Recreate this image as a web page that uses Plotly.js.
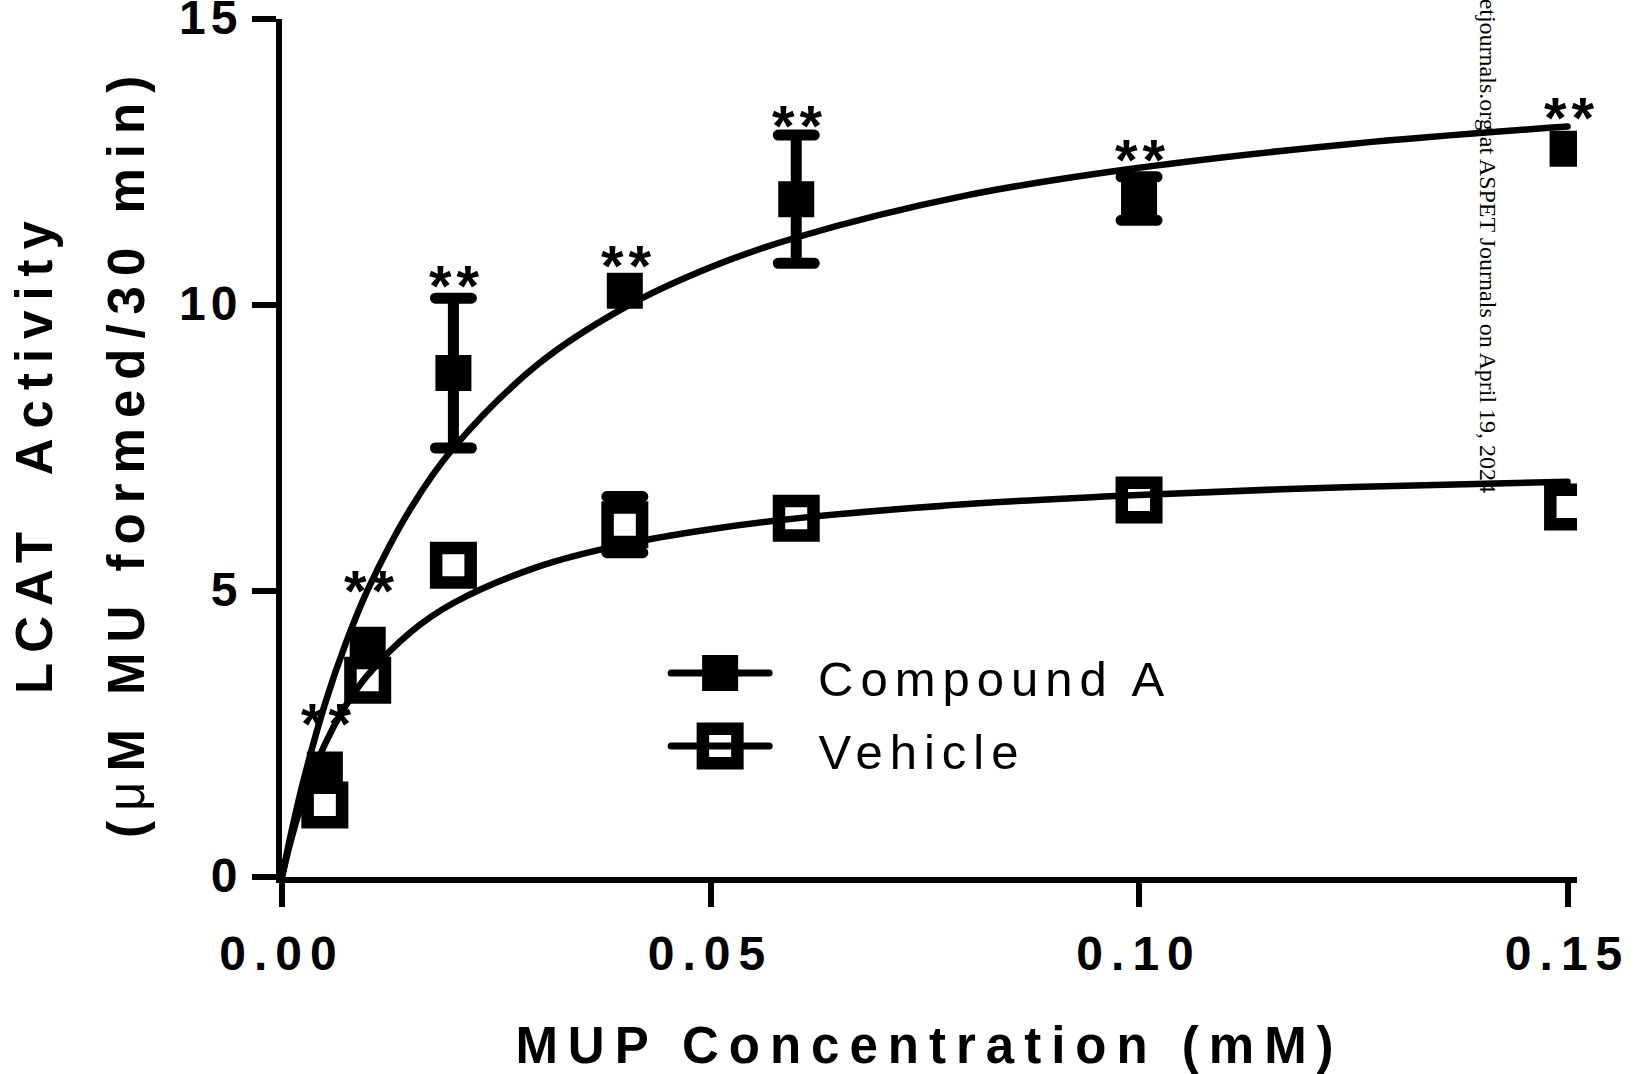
<!DOCTYPE html>
<html>
<head>
<meta charset="utf-8">
<script src="https://cdn.plot.ly/plotly-3.0.1.min.js"></script>
<style>
html, body { margin: 0; padding: 0; background: #ffffff; }
#chart { width: 1637px; height: 1074px; }
.xtick text { letter-spacing: 8px; }
.ytick text { letter-spacing: 5px; }
.xtitle { letter-spacing: 10px; }
g.annotation text { letter-spacing: 5px; }
g.annotation[data-index="0"] text, g.annotation[data-index="1"] text { letter-spacing: 10px; }
g.annotation[data-index="2"] text, g.annotation[data-index="3"] text { letter-spacing: 7px; }
g.annotation[data-index="4"] text { letter-spacing: 0px; }
g.errorbar path { stroke-linecap: round; }
.shapelayer path { stroke-linecap: round; }
.js-line { stroke-linecap: round; }
</style>
</head>
<body>
<div id="chart"></div>
<script>
// ---- data ----
const concentration = [0.005, 0.01, 0.02, 0.04, 0.06, 0.10, 0.15];      // mM
const compoundMean  = [1.88, 4.06, 8.81, 10.25, 11.85, 11.86, 12.73];
const compoundSem   = [null, null, 1.31, null, 1.12, 0.38, null];      // null = hidden behind symbol
const vehicleMean   = [1.26, 3.44, 5.45, 6.16, 6.27, 6.59, 6.47];
const vehicleSem    = [null, null, null, 0.49, null, null, null];
const fitX          = [0, 0.001, 0.0025, 0.005, 0.0075, 0.01, 0.015, 0.02, 0.03, 0.04, 0.05, 0.06, 0.08, 0.10, 0.125, 0.15];
const compoundFit   = [0, 0.72, 1.68, 3.02, 4.11, 5.02, 6.44, 7.50, 8.98, 9.96, 10.66, 11.18, 11.92, 12.40, 12.82, 13.12];
const vehicleFit    = [0, 0.62, 1.37, 2.32, 3.01, 3.53, 4.28, 4.79, 5.43, 5.82, 6.08, 6.27, 6.52, 6.68, 6.82, 6.91];
const significance  = ['**', '**', '**', '**', '**', '**', '**'];
const xTickVals     = [0, 0.05, 0.10, 0.15];
const xTickText     = ['0.00', '0.05', '0.10', '0.15'];
const yTickVals     = [0, 5, 10, 15];

// ---- layout geometry ----
const M = { l: 282, r: 60.4, t: 19, b: 197 };
const FIG_W = 1637, FIG_H = 1074;
const PW = FIG_W - M.l - M.r, PH = FIG_H - M.t - M.b;
const px = xp => (xp - M.l) / PW;
const py = yp => (M.t + PH - yp) / PH;
const SANS = 'Liberation Sans, Arial, Helvetica, sans-serif';
const SERIF = 'Liberation Serif, Times New Roman, serif';
const toErr = a => a.map(v => (v === null ? NaN : v));

const traces = [
  {
    x: concentration, y: compoundMean, type: 'scatter', mode: 'markers', name: 'Compound A',
    marker: { symbol: 'square', size: 36, color: '#000', line: { width: 0 } },
    error_y: { type: 'data', array: toErr(compoundSem), visible: true, color: '#000', thickness: 11, width: 18 },
    cliponaxis: true, showlegend: false
  },
  {
    x: concentration, y: vehicleMean, type: 'scatter', mode: 'markers', name: 'Vehicle',
    marker: { symbol: 'square', size: 34.5, color: '#fff', line: { width: 12.5, color: '#000' } },
    error_y: { type: 'data', array: toErr(vehicleSem), visible: true, color: '#000', thickness: 11, width: 18 },
    cliponaxis: true, showlegend: false
  },
  {
    x: fitX, y: compoundFit, type: 'scatter', mode: 'lines', name: 'Compound A fit',
    line: { color: '#000', width: 6.5, shape: 'spline', smoothing: 1 }, showlegend: false
  },
  {
    x: fitX, y: vehicleFit, type: 'scatter', mode: 'lines', name: 'Vehicle fit',
    line: { color: '#000', width: 6.5, shape: 'spline', smoothing: 1 }, showlegend: false
  }
];

// star label positions (data units)
const starLabelY = [2.91, 5.24, 10.56, 10.91, 13.37, 12.77, 13.51];

const annotations = [
  { text: 'LCAT  Activity', xref: 'paper', yref: 'paper', x: px(34), y: py(452), textangle: -90,
    showarrow: false, xanchor: 'center', yanchor: 'middle',
    font: { family: SANS, size: 51, color: '#000', weight: 700 } },
  { text: '(<span style="font-weight:normal">μ</span>M MU formed/30 min)', xref: 'paper', yref: 'paper',
    x: px(126), y: py(452), textangle: -90, showarrow: false, xanchor: 'center', yanchor: 'middle',
    font: { family: SANS, size: 51, color: '#000', weight: 700 } },
  { text: 'Compound A', xref: 'paper', yref: 'paper', x: px(816), y: py(679), showarrow: false,
    xanchor: 'left', yanchor: 'middle', xshift: 35, font: { family: SANS, size: 49, color: '#000' } },
  { text: 'Vehicle', xref: 'paper', yref: 'paper', x: px(816), y: py(752), showarrow: false,
    xanchor: 'left', yanchor: 'middle', xshift: 24.5, font: { family: SANS, size: 49, color: '#000' } },
  { text: 'etjournals.org at ASPET Journals on April 19, 2024', xref: 'paper', yref: 'paper',
    x: px(1488), y: py(-3), textangle: 90, showarrow: false, xanchor: 'center', yanchor: 'top',
    font: { family: SERIF, size: 24, color: '#000' } }
];
concentration.forEach((c, i) => {
  annotations.push({
    text: significance[i], x: c, y: starLabelY[i], xref: 'x', yref: 'y', showarrow: false,
    xanchor: 'center', yanchor: 'middle', xshift: 4, yshift: -13,
    font: { family: SANS, size: 58, color: '#000', weight: 700 }
  });
});

const shapes = [
  { type: 'line', xref: 'paper', yref: 'paper', x0: px(671), x1: px(769), y0: py(673), y1: py(673),
    line: { color: '#000', width: 7 } },
  { type: 'rect', xref: 'paper', yref: 'paper', x0: px(702), x1: px(738), y0: py(691), y1: py(655),
    fillcolor: '#000', line: { width: 0 } },
  { type: 'rect', xref: 'paper', yref: 'paper', x0: px(702.75), x1: px(737.25), y0: py(763.25), y1: py(728.75),
    fillcolor: '#fff', line: { color: '#000', width: 12.5 } },
  { type: 'line', xref: 'paper', yref: 'paper', x0: px(671), x1: px(769), y0: py(746), y1: py(746),
    line: { color: '#000', width: 7 } }
];

const layout = {
  width: FIG_W, height: FIG_H,
  margin: M,
  paper_bgcolor: '#fff', plot_bgcolor: '#fff',
  showlegend: false,
  xaxis: {
    range: [0, 0.1511], tickmode: 'array', tickvals: xTickVals, ticktext: xTickText,
    showgrid: false, zeroline: false, showline: true, linecolor: '#000', linewidth: 6,
    ticks: 'outside', ticklen: 24, tickwidth: 6, tickcolor: '#000',
    ticklabelstandoff: 5, ticklabeloverflow: 'allow',
    tickfont: { family: SANS, size: 48, color: '#000', weight: 700 },
    title: { text: 'MUP Concentration (mM)', standoff: 74,
             font: { family: SANS, size: 51, color: '#000', weight: 700 } }
  },
  yaxis: {
    range: [0, 15], tickmode: 'array', tickvals: yTickVals,
    showgrid: false, zeroline: false, showline: true, linecolor: '#000', linewidth: 6,
    ticks: 'outside', ticklen: 24, tickwidth: 6, tickcolor: '#000',
    ticklabeloverflow: 'allow', ticklabelshift: -2,
    tickfont: { family: SANS, size: 48, color: '#000', weight: 700 }
  },
  annotations: annotations,
  shapes: shapes
};

Plotly.newPlot('chart', traces, layout, { displayModeBar: false, staticPlot: true });
</script>
</body>
</html>
